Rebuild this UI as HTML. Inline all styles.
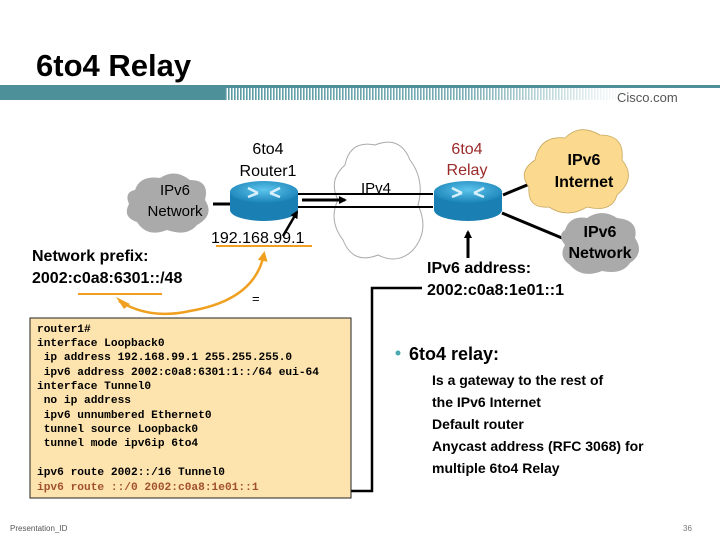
<!DOCTYPE html>
<html><head><meta charset="utf-8"><style>
body{margin:0;width:720px;height:540px;background:#fff;overflow:hidden}
svg{display:block}
text{font-family:"Liberation Sans",Arial,sans-serif}
.c{font-family:"Liberation Mono","Courier New",monospace;font-size:11.2px;font-weight:bold;white-space:pre}
</style></head><body>
<svg width="720" height="540" viewBox="0 0 720 540" xmlns="http://www.w3.org/2000/svg" xml:space="preserve">
<defs>
<pattern id="st" width="3" height="10" patternUnits="userSpaceOnUse"><rect width="1.6" height="10" fill="#5a9aa3"/></pattern>
<linearGradient id="fd" x1="0" x2="1"><stop offset="0" stop-color="#fff" stop-opacity="0"/><stop offset="0.6" stop-color="#fff" stop-opacity="0.2"/><stop offset="1" stop-color="#fff" stop-opacity="1"/></linearGradient>
<marker id="ah" markerWidth="8" markerHeight="8" refX="6" refY="4" orient="auto" markerUnits="userSpaceOnUse"><path d="M0,0 L8,4 L0,8 Z" fill="#000"/></marker>
<marker id="oh" markerWidth="10" markerHeight="10" refX="7" refY="5" orient="auto" markerUnits="userSpaceOnUse"><path d="M0,0 L10,5 L0,10 Z" fill="#f0a020"/></marker>
<radialGradient id="rb" cx="0.5" cy="0.4" r="0.6"><stop offset="0" stop-color="#5cc4ec"/><stop offset="1" stop-color="#1b84b8"/></radialGradient>
</defs>
<text x="36" y="76" font-size="31" font-weight="bold">6to4 Relay</text>
<rect x="0" y="85" width="720" height="3" fill="#4e9099"/>
<rect x="0" y="85" width="225" height="15" fill="#4e9099"/>
<rect x="225" y="88" width="400" height="12" fill="url(#st)"/>
<rect x="225" y="88" width="400" height="12" fill="url(#fd)"/>
<text x="617" y="102" font-size="13" fill="#555">Cisco.com</text>

<path d="M345,165 q5,-25 30,-20 q25,-10 35,15 q15,20 8,45 q12,25 -5,45 q-15,15 -35,5 q-25,10 -35,-15 q-15,-20 -5,-40 q-10,-20 7,-35 z" fill="#fff" stroke="#aaa" stroke-width="1"/>
<text x="376" y="193" font-size="15" text-anchor="middle">IPv4</text>

<path d="M135,190 q5,-15 25,-12 q15,-10 30,2 q20,0 15,20 q10,15 -8,25 q-10,12 -30,5 q-20,8 -30,-8 q-15,-5 -8,-18 q-5,-12 6,-14 z" fill="#aaa"/>
<text x="175" y="195" font-size="15" text-anchor="middle">IPv6</text>
<text x="175" y="216" font-size="15" text-anchor="middle">Network</text>
<line x1="213" y1="204" x2="232" y2="204" stroke="#000" stroke-width="3"/>

<line x1="298" y1="194" x2="433" y2="194" stroke="#000" stroke-width="2"/>
<line x1="298" y1="207" x2="433" y2="207" stroke="#000" stroke-width="2"/>
<line x1="302" y1="200" x2="345" y2="200" stroke="#000" stroke-width="3" marker-end="url(#ah)"/>

<g>
<path d="M230,192 v18 a34,11 0 0 0 68,0 v-18 z" fill="#1a7fb2"/>
<ellipse cx="264" cy="192" rx="34" ry="11" fill="url(#rb)"/>
<path d="M248,188 l10,5 M280,188 l-10,5 M248,197 l10,-4 M280,197 l-10,-4" stroke="#d8f0fb" stroke-width="2.5"/>
</g>
<text x="268" y="154" font-size="16" text-anchor="middle">6to4</text>
<text x="268" y="176" font-size="16" text-anchor="middle">Router1</text>

<g>
<path d="M434,192 v18 a34,11 0 0 0 68,0 v-18 z" fill="#1a7fb2"/>
<ellipse cx="468" cy="192" rx="34" ry="11" fill="url(#rb)"/>
<path d="M452,188 l10,5 M484,188 l-10,5 M452,197 l10,-4 M484,197 l-10,-4" stroke="#d8f0fb" stroke-width="2.5"/>
</g>
<text x="467" y="154" font-size="16" text-anchor="middle" fill="#9b2a2a">6to4</text>
<text x="467" y="175" font-size="16" text-anchor="middle" fill="#9b2a2a">Relay</text>

<line x1="503" y1="195" x2="532" y2="183" stroke="#000" stroke-width="3"/>
<line x1="502" y1="213" x2="562" y2="238" stroke="#000" stroke-width="3"/>

<path d="M535,160 q5,-25 30,-22 q15,-15 35,-3 q25,0 22,25 q15,18 -5,35 q-5,18 -30,12 q-20,12 -38,0 q-22,2 -20,-20 q-12,-15 6,-27 z" fill="#fbd98f" stroke="#c9a860" stroke-width="0.8"/>
<text x="584" y="165" font-size="16" font-weight="bold" text-anchor="middle">IPv6</text>
<text x="584" y="187" font-size="16" font-weight="bold" text-anchor="middle">Internet</text>

<path d="M565,230 q5,-15 22,-12 q15,-10 30,0 q22,2 18,20 q10,15 -5,25 q-8,12 -28,8 q-20,8 -32,-6 q-12,-8 -5,-20 q-8,-10 0,-15 z" fill="#aaa"/>
<text x="600" y="237" font-size="16" font-weight="bold" text-anchor="middle">IPv6</text>
<text x="600" y="258" font-size="16" font-weight="bold" text-anchor="middle">Network</text>

<line x1="468" y1="258" x2="468" y2="232" stroke="#000" stroke-width="3" marker-end="url(#ah)"/>
<text x="427" y="273" font-size="16" font-weight="bold">IPv6 address:</text>
<text x="427" y="295" font-size="16" font-weight="bold">2002:c0a8:1e01::1</text>

<text x="211" y="243" font-size="16">192.168.99.1</text>
<line x1="216" y1="246" x2="312" y2="246" stroke="#f0a020" stroke-width="2"/>
<line x1="283" y1="236" x2="297" y2="212" stroke="#000" stroke-width="2.5" marker-end="url(#ah)"/>

<text x="32" y="261" font-size="16" font-weight="bold">Network prefix:</text>
<text x="32" y="283" font-size="16" font-weight="bold">2002:c0a8:6301::/48</text>
<line x1="78" y1="294" x2="162" y2="294" stroke="#f0a020" stroke-width="2"/>
<path d="M119,301 Q150,320 190,311 Q255,300 264,254" fill="none" stroke="#f0a020" stroke-width="2.5" marker-end="url(#oh)"/>
<path d="M130,304 L116,297 L124,309 Z" fill="#f0a020"/>
<text x="252" y="303" font-size="13">=</text>

<polyline points="422,288 372,288 372,491 351,491" fill="none" stroke="#000" stroke-width="2.5"/>

<rect x="30" y="318" width="321" height="180" fill="#fde3ae" stroke="#222" stroke-width="1"/>
<text class="c" x="37" y="332">router1#</text>
<text class="c" x="37" y="346">interface Loopback0</text>
<text class="c" x="37" y="360"> ip address 192.168.99.1 255.255.255.0</text>
<text class="c" x="37" y="375"> ipv6 address 2002:c0a8:6301:1::/64 eui-64</text>
<text class="c" x="37" y="389">interface Tunnel0</text>
<text class="c" x="37" y="403"> no ip address</text>
<text class="c" x="37" y="418"> ipv6 unnumbered Ethernet0</text>
<text class="c" x="37" y="432"> tunnel source Loopback0</text>
<text class="c" x="37" y="446"> tunnel mode ipv6ip 6to4</text>
<text class="c" x="37" y="475">ipv6 route 2002::/16 Tunnel0</text>
<text class="c" x="37" y="490" fill="#a0522d">ipv6 route ::/0 2002:c0a8:1e01::1</text>

<circle cx="398" cy="353" r="2.5" fill="#4aa8b0"/>
<text x="409" y="360" font-size="18" font-weight="bold">6to4 relay:</text>
<g font-size="14" font-weight="bold">
<text x="432" y="385">Is a gateway to the rest of</text>
<text x="432" y="407">the IPv6 Internet</text>
<text x="432" y="429">Default router</text>
<text x="432" y="451">Anycast address (RFC 3068) for</text>
<text x="432" y="473">multiple 6to4 Relay</text>
</g>
<text x="10" y="531" font-size="8" fill="#555">Presentation_ID</text>
<text x="683" y="531" font-size="8" fill="#777">36</text>
</svg>
</body></html>
